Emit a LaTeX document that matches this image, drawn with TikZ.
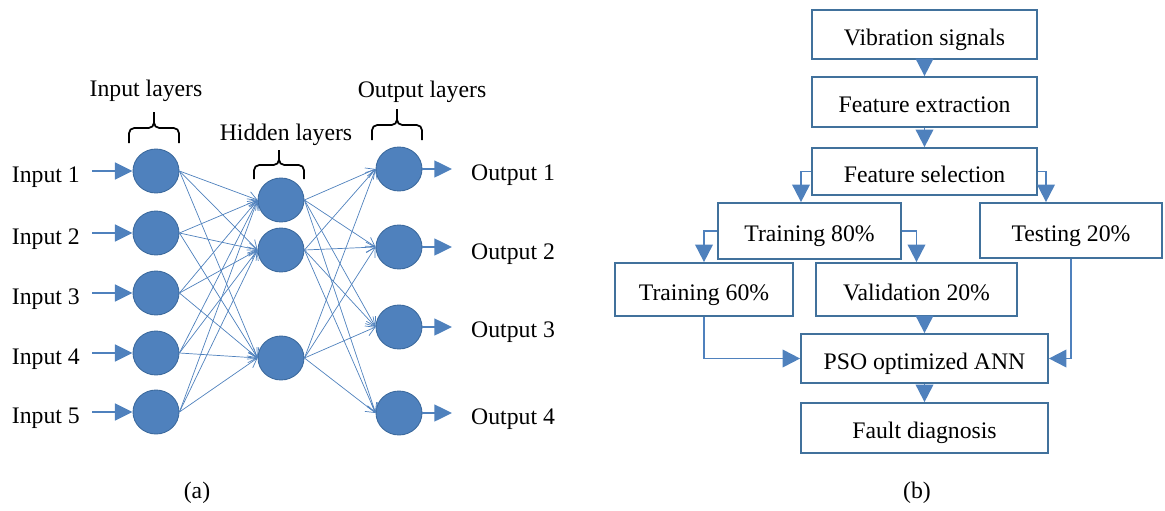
\documentclass[tikz,border=0pt]{standalone}
\usepackage{fontspec}
\setmainfont{Liberation Serif}
\usetikzlibrary{shapes.geometric,arrows.meta}
\definecolor{nnblue}{HTML}{4F81BD}
\definecolor{nnedge}{HTML}{3C6A9E}
\definecolor{boxedge}{HTML}{41719C}

\begin{document}
\begin{tikzpicture}[x=0.02cm, y=0.02cm]
      \tikzstyle{every node}+=[font=\fontsize{13.5}{16}\selectfont]
      \tikzstyle{neuron}=[ellipse, fill=nnblue, draw=nnedge, line width=0.5pt, minimum width=0.92cm, minimum height=0.88cm, inner sep=0pt]
      \tikzstyle{link}=[nnblue, line width=0.4pt, -{Straight Barb[length=5pt,width=6pt]}]
      \tikzstyle{feed}=[nnblue, line width=1.2pt, -{Triangle[length=10pt,width=9.5pt]}]
      \tikzstyle{box}=[draw=boxedge, line width=1pt, text height=12pt, text depth=0pt]
      \tikzstyle{flow}=[nnblue, line width=1.1pt, -{Triangle[length=10pt,width=10pt]}]
      \tikzstyle{layer}=[black, line width=1pt, rounded corners=3pt]
      \useasboundingbox (0,0) rectangle (1165,-510);
      % (a) network
      \node[neuron] (in1) at (156,-171) {};
      \node[neuron] (in2) at (156,-233) {};
      \node[neuron] (in3) at (156,-293) {};
      \node[neuron] (in4) at (156,-353) {};
      \node[neuron] (in5) at (156,-412) {};
      \node[neuron] (hid1) at (281,-200) {};
      \node[neuron] (hid2) at (281,-250) {};
      \node[neuron] (hid3) at (281,-358) {};
      \node[neuron] (out1) at (399,-169) {};
      \node[neuron] (out2) at (399,-247) {};
      \node[neuron] (out3) at (399,-327) {};
      \node[neuron] (out4) at (399,-413) {};
      \foreach \i in {1,...,5}
        \foreach \j in {1,2,3}
          \draw[link] (in\i.east) -- (hid\j.west);
      \foreach \j in {1,2,3}
        \foreach \k in {1,...,4}
          \draw[link] (hid\j.east) -- (out\k.west);
      \node[anchor=east] (lab1) at (86,-177) {Input 1};
      \node[anchor=east] (lab2) at (86,-239) {Input 2};
      \node[anchor=east] (lab3) at (86,-299) {Input 3};
      \node[anchor=east] (lab4) at (86,-359) {Input 4};
      \node[anchor=east] (lab5) at (86,-418) {Input 5};
      \foreach \i in {1,...,5}
        \draw[feed, shorten <=0.12cm] (lab\i.east |- in\i) -- (in\i.west);
      \node[anchor=west] (olab1) at (465,-175) {Output 1};
      \node[anchor=west] (olab2) at (465,-254) {Output 2};
      \node[anchor=west] (olab3) at (465,-332) {Output 3};
      \node[anchor=west] (olab4) at (465,-419) {Output 4};
      \foreach \k in {1,...,4}
        \draw[feed, shorten >=0.26cm] (out\k.east) -- (olab\k.west |- out\k);
      \draw[layer] (129,-143) |- (154,-128) -- (154,-112);
      \draw[layer] (179,-143) |- (154,-128) -- (154,-112);
      \draw[layer] (254,-179) |- (279,-165) -- (279,-150);
      \draw[layer] (304,-179) |- (279,-165) -- (279,-150);
      \draw[layer] (372,-140) |- (397,-125) -- (397,-109);
      \draw[layer] (422,-140) |- (397,-125) -- (397,-109);
      \node (inlayer) at (146,-91) {Input layers};
      \node (hidlayer) at (286,-135) {Hidden layers};
      \node (outlayer) at (422,-92) {Output layers};
      \node (capa) at (197,-493) {(a)};
      % (b) flow chart
      \node[box, minimum width=4.5cm, minimum height=0.98cm] (vib) at (924.5,-34.5) {Vibration signals};
      \node[box, minimum width=4.5cm, minimum height=1cm] (fext) at (924.5,-102) {Feature extraction};
      \node[box, minimum width=4.5cm, minimum height=0.94cm] (fsel) at (924.5,-171.5) {Feature selection};
      \node[box, minimum width=3.66cm, minimum height=1.12cm] (tr80) at (809.5,-231) {Training 80\%};
      \node[box, minimum width=3.64cm, minimum height=1.1cm] (test) at (1071,-230.5) {Testing 20\%};
      \node[box, minimum width=3.56cm, minimum height=1.06cm] (tr60) at (704,-289.5) {Training 60\%};
      \node[box, minimum width=4.02cm, minimum height=1.06cm] (val) at (916.5,-289.5) {Validation 20\%};
      \node[box, minimum width=4.94cm, minimum height=0.98cm] (pso) at (924.5,-358.5) {PSO optimized ANN};
      \node[box, minimum width=4.94cm, minimum height=1cm] (fault) at (924.5,-428) {Fault diagnosis};
      \draw[flow] (vib) -- (fext);
      \draw[flow] (fext) -- (fsel);
      \draw[flow] (fsel.west) -| ([xshift=-0.17cm]tr80.north);
      \draw[flow] (fsel.east) -| ([xshift=-0.5cm]test.north);
      \draw[flow] (tr80.west) -| (tr60.north);
      \draw[flow] (tr80.east) -| (val.north);
      \draw[flow] (val.south -| pso.north) -- (pso.north);
      \draw[flow] (tr60.south) |- (pso.west);
      \draw[flow] (test.south) |- (pso.east);
      \draw[flow] (pso) -- (fault);
      \node (capb) at (917,-493) {(b)};
\end{tikzpicture}
\end{document}
